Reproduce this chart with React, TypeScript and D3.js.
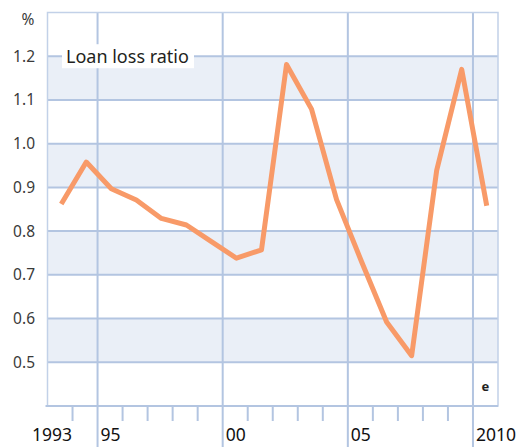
import React from "react";
import * as d3 from "d3";

// loan loss ratio, %, plotted mid-year
const years = [1993, 1994, 1995, 1996, 1997, 1998, 1999, 2000, 2001, 2002, 2003, 2004, 2005, 2006, 2007, 2008, 2009, 2010];
const ratio = [0.862, 0.958, 0.897, 0.871, 0.829, 0.814, 0.776, 0.738, 0.757, 1.181, 1.079, 0.872, 0.73, 0.592, 0.515, 0.939, 1.17, 0.858];
const yTicks = [0.5, 0.6, 0.7, 0.8, 0.9, 1.0, 1.1, 1.2];
const bands = [[0.5, 0.6], [0.7, 0.8], [0.9, 1.0], [1.1, 1.2]];
const majorYears = [1995, 2000, 2005, 2010];
const minorYears = [1994, 1996, 1997, 1998, 1999, 2001, 2002, 2003, 2004, 2006, 2007, 2008, 2009];
const xLabels = [
  { year: 1993, text: "1993" },
  { year: 1995, text: "95" },
  { year: 2000, text: "00" },
  { year: 2005, text: "05" },
  { year: 2010, text: "2010" },
];

const width = 526,
  height = 447,
  margin = { left: 47.5, top: 12.5, right: 28, bottom: 41 };

const grid = "#b3c5e1";
const font = "'Noto Sans', 'Open Sans', sans-serif";

export default function App() {
  let x = d3.scaleLinear().domain([1993, 2011]).range([margin.left, width - margin.right]),
    y = d3.scaleLinear().domain([0.4, 1.3]).range([height - margin.bottom, margin.top]);

  let line = d3.line<number>()
    .x((d, i) => x(years[i] + 0.55))
    .y(d => y(d));

  const bottom = y(0.4);

  return (
    <svg width={width} height={height} style={{ position: "absolute", left: 0, top: 0, background: "#fff" }}>
      {bands.map(([a, b]) => (
        <rect key={a} x={x(1993)} width={x(2011) - x(1993)} y={y(b)} height={y(a) - y(b)} fill="#eaeff7" />
      ))}
      {yTicks.map(t => (
        <line key={t} x1={x(1993)} x2={x(2011)} y1={y(t)} y2={y(t)} stroke={grid} strokeWidth={2} />
      ))}
      {majorYears.map(yr => (
        <line key={yr} x1={x(yr)} x2={x(yr)} y1={y(1.3)} y2={height} stroke={grid} strokeWidth={2} />
      ))}
      {minorYears.map(yr => (
        <line key={yr} x1={x(yr)} x2={x(yr)} y1={bottom} y2={bottom + 15} stroke={grid} strokeWidth={2} />
      ))}
      <rect x={x(1993)} y={y(1.3)} width={x(2011) - x(1993)} height={bottom - y(1.3)} fill="none" stroke="#c2d1e8" strokeWidth={1.5} />
      <line x1={x(1993) - 2} x2={x(2011)} y1={bottom} y2={bottom} stroke={grid} strokeWidth={2} />

      <rect x={62} y={y(1.2) - 12} width={132} height={24} fill="#fff" />
      <text x={66} y={63} fontFamily={font} fontSize={18} fill="#231f20">Loan loss ratio</text>

      <path d={line(ratio) || ""} fill="none" stroke="#f89a68" strokeWidth={5} strokeLinejoin="round" />

      {yTicks.map(t => (
        <text key={t} x={35} y={y(t) + 5.5} textAnchor="end" fontFamily={font} fontSize={15.5} fill="#3a3a3a">
          {t.toFixed(1)}
        </text>
      ))}
      <text x={28} y={25} textAnchor="middle" fontFamily={font} fontSize={15.5} fill="#3a3a3a">%</text>
      <text x={x(2010.5)} y={bottom - 15} textAnchor="middle" fontFamily={font} fontSize={13} fontWeight="bold" fill="#231f20">e</text>

      {xLabels.map(l => (
        <text
          key={l.text}
          x={l.year === 1993 ? x(1994) - 0.5 : x(l.year) + 3}
          y={441}
          textAnchor={l.year === 1993 ? "end" : "start"}
          fontFamily={font}
          fontSize={17.5}
          fill="#111"
        >
          {l.text}
        </text>
      ))}
    </svg>
  );
}
